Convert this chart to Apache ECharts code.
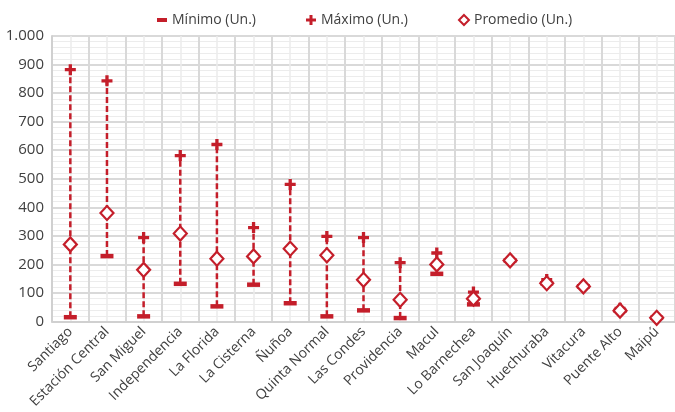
<!DOCTYPE html>
<html>
<head>
<meta charset="utf-8">
<script src="https://cdn.jsdelivr.net/npm/echarts@6/dist/echarts.min.js"></script>
<style>html,body{margin:0;padding:0;background:#fff;}#c{width:675px;height:412px;}</style>
</head>
<body>
<div id="c"></div>
<script>
const categories = ['Santiago','Estación Central','San Miguel','Independencia','La Florida','La Cisterna','Ñuñoa','Quinta Normal','Las Condes','Providencia','Macul','Lo Barnechea','San Joaquín','Huechuraba','Vitacura','Puente Alto','Maipú'];
const minVals = [15, 229, 18, 132, 53, 129, 64, 18, 39, 12, 167, 60, 214, 134, 123, 38, 13];
const maxVals = [882, 843, 294, 581, 620, 329, 480, 298, 294, 206, 240, 103, 214, 147, 123, 46, 13];
const avgVals = [270, 380, 181, 308, 220, 228, 255, 232, 146, 76, 200, 80, 214, 134, 123, 38, 13];
const yTicks = [0, 1000, 100];

const RED = '#c41e2a';
const TXT = '#404040';
const FONT = '"Open Sans", sans-serif';
const PLUS = 'path://M3.5,0 H6.5 V3.5 H10 V6.5 H6.5 V10 H3.5 V6.5 H0 V3.5 H3.5 Z';

const chart = echarts.init(document.getElementById('c'), null, {renderer: 'canvas'});
chart.setOption({
  animation: false,
  textStyle: {fontFamily: FONT},
  legend: {
    top: 8, left: 152,
    itemGap: 50, itemWidth: 10, itemHeight: 10,
    textStyle: {color: TXT, fontSize: 14, fontFamily: FONT},
    data: [
      {name: 'Mínimo (Un.)', icon: 'path://M0,0 H10 V4 H0 Z'},
      {name: 'Máximo (Un.)', icon: PLUS},
      {name: 'Promedio (Un.)', icon: 'diamond', itemStyle: {color: '#fff', borderColor: RED, borderWidth: 2}}
    ]
  },
  grid: {left: 52, right: -4, top: 36, bottom: 90.5, containLabel: false},
  xAxis: [
    {
      type: 'category', data: categories, boundaryGap: true,
      axisLine: {show: true, lineStyle: {color: '#d0d0d0', width: 2}},
      axisTick: {show: false},
      splitLine: {show: false},
      axisLabel: {rotate: 45, color: TXT, fontSize: 14, fontFamily: FONT, interval: 0, margin: 8}
    },
    {
      type: 'value', min: 0, max: categories.length * 2, interval: 2, show: true,
      position: 'bottom',
      axisLine: {show: false}, axisTick: {show: false}, axisLabel: {show: false},
      splitLine: {show: true, lineStyle: {color: '#d9d9d9', width: 2}},
      minorTick: {show: false, splitNumber: 2},
      minorSplitLine: {show: true, lineStyle: {color: '#ececec', width: 1.5}}
    }
  ],
  yAxis: {
    type: 'value', min: yTicks[0], max: yTicks[1], interval: yTicks[2],
    axisLine: {show: true, lineStyle: {color: '#d0d0d0', width: 2}},
    axisTick: {show: false},
    axisLabel: {color: TXT, fontSize: 15, fontFamily: FONT, margin: 8,
      formatter: v => v >= 1000 ? (Math.floor(v/1000) + '.' + String(v%1000).padStart(3,'0')) : String(v)},
    splitLine: {show: true, lineStyle: {color: '#d9d9d9', width: 2}},
    minorTick: {show: false, splitNumber: 5},
    minorSplitLine: {show: true, lineStyle: {color: '#ececec', width: 1}}
  },
  series: [
    {
      type: 'custom', name: 'range', xAxisIndex: 0, silent: true, z: 2,
      data: categories.map((c, i) => [i, minVals[i], maxVals[i]]),
      renderItem: function (params, api) {
        const a = api.coord([api.value(0), api.value(1)]);
        const b = api.coord([api.value(0), api.value(2)]);
        return {type: 'line', shape: {x1: a[0], y1: a[1], x2: b[0], y2: b[1]},
          style: {stroke: RED, lineWidth: 2.5, lineDash: [6, 3]}};
      }
    },
    {
      type: 'scatter', name: 'Mínimo (Un.)', xAxisIndex: 0, z: 3,
      data: minVals, symbol: 'rect', symbolSize: [13, 4.5],
      itemStyle: {color: RED, opacity: 1}
    },
    {
      type: 'scatter', name: 'Máximo (Un.)', xAxisIndex: 0, z: 3,
      data: maxVals, symbol: PLUS, symbolSize: 11,
      itemStyle: {color: RED, opacity: 1}
    },
    {
      type: 'scatter', name: 'Promedio (Un.)', xAxisIndex: 0, z: 4,
      data: avgVals, symbol: 'diamond', symbolSize: [13, 14],
      itemStyle: {color: '#fff', borderColor: RED, borderWidth: 2.2, opacity: 1}
    }
  ]
});
</script>
</body>
</html>
